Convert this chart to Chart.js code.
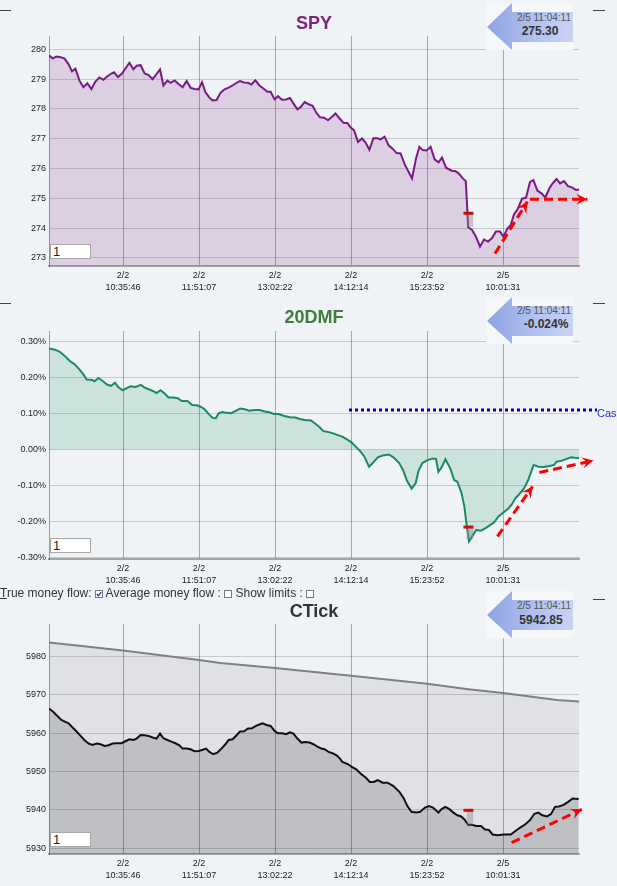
<!DOCTYPE html>
<html><head><meta charset="utf-8">
<script src="https://cdn.jsdelivr.net/npm/chart.js@4.4.1/dist/chart.umd.min.js"></script>
<style>
html,body{margin:0;padding:0;background:#F0F3F6;width:617px;height:886px;overflow:hidden;font-family:"Liberation Sans",Arial,sans-serif;}
#wrap{position:relative;width:617px;height:886px;overflow:hidden;}
canvas{position:absolute;left:0;}
.title{position:absolute;left:49px;width:530px;text-align:center;font-weight:bold;font-size:18px;line-height:20px;}
.dash{position:absolute;height:1px;background:#444;width:12px;}
.inbox{position:absolute;left:50px;width:37px;height:13px;background:#fff;border:1px solid #A8A8A8;font-size:13px;line-height:13px;color:#222;padding-left:2px;}
.callout{position:absolute;left:484px;}
.cbrow{position:absolute;left:0;top:586px;font-size:12px;line-height:14px;color:#333;white-space:nowrap;}
.cbrow svg{vertical-align:-0.5px;}
.cash{position:absolute;left:597px;top:407px;font-size:11px;line-height:13px;color:#2233DD;white-space:nowrap;}
</style>
</head>
<body>
<div id="wrap">
  <canvas id="c1" width="617" height="300" style="top:0px;width:617px;height:300px"></canvas>
  <canvas id="c2" width="617" height="290" style="top:300px;width:617px;height:290px"></canvas>
  <canvas id="c3" width="617" height="286" style="top:600px;width:617px;height:286px"></canvas>

  <div class="title" style="top:13px;color:#7B2580">SPY</div>
  <div class="title" style="top:307px;color:#3E7D3E">20DMF</div>
  <div class="title" style="top:601px;color:#333">CTick</div>

  <div class="dash" style="left:0;top:10px;width:11px"></div>
  <div class="dash" style="left:593px;top:10px"></div>
  <div class="dash" style="left:0;top:303px;width:11px"></div>
  <div class="dash" style="left:593px;top:303px"></div>
  <div class="dash" style="left:593px;top:599px"></div>

  <svg class="callout" style="top:1px" width="92" height="52">
    <defs><linearGradient id="g1" x1="0" y1="0" x2="1" y2="0"><stop offset="0" stop-color="#8EA3E1"/><stop offset="0.6" stop-color="#B3C2F0"/><stop offset="1" stop-color="#C9D3F4"/></linearGradient></defs>
    <rect x="2" y="2" width="87" height="47" fill="#F5F7F9"/>
    <polygon points="3,26 28,2 28,11 89,11 89,41 28,41 28,49" fill="url(#g1)"/>
    <text x="87" y="20" text-anchor="end" font-size="10" fill="#555" font-family="Liberation Sans, Arial">2/5 11:04:11</text>
    <text x="56" y="34" text-anchor="middle" font-size="12" font-weight="bold" fill="#333" font-family="Liberation Sans, Arial">275.30</text>
  </svg>
  <svg class="callout" style="top:295px" width="92" height="52">
    <defs><linearGradient id="g2" x1="0" y1="0" x2="1" y2="0"><stop offset="0" stop-color="#8EA3E1"/><stop offset="0.6" stop-color="#B3C2F0"/><stop offset="1" stop-color="#C9D3F4"/></linearGradient></defs>
    <rect x="2" y="2" width="87" height="47" fill="#F5F7F9"/>
    <polygon points="3,26 28,2 28,11 89,11 89,41 28,41 28,49" fill="url(#g2)"/>
    <text x="87" y="19" text-anchor="end" font-size="10" fill="#555" font-family="Liberation Sans, Arial">2/5 11:04:11</text>
    <text x="62" y="33" text-anchor="middle" font-size="12" font-weight="bold" fill="#333" font-family="Liberation Sans, Arial">-0.024%</text>
  </svg>
  <svg class="callout" style="top:589px" width="92" height="52">
    <defs><linearGradient id="g3" x1="0" y1="0" x2="1" y2="0"><stop offset="0" stop-color="#8EA3E1"/><stop offset="0.6" stop-color="#B3C2F0"/><stop offset="1" stop-color="#C9D3F4"/></linearGradient></defs>
    <rect x="2" y="2" width="87" height="47" fill="#F5F7F9"/>
    <polygon points="3,26 28,2 28,11 89,11 89,41 28,41 28,49" fill="url(#g3)"/>
    <text x="87" y="20" text-anchor="end" font-size="10" fill="#555" font-family="Liberation Sans, Arial">2/5 11:04:11</text>
    <text x="57" y="35" text-anchor="middle" font-size="12" font-weight="bold" fill="#333" font-family="Liberation Sans, Arial">5942.85</text>
  </svg>

  <div class="inbox" style="top:244px">1</div>
  <div class="inbox" style="top:538px">1</div>
  <div class="inbox" style="top:832px">1</div>

  <div class="cash">Cash</div>

  <div class="cbrow"><u>T</u>rue money flow: <svg width="8" height="8"><rect x="0.5" y="0.5" width="7" height="7" fill="#fff" stroke="#7A7A7A"/><path d="M1.8 4 L3.3 5.7 L6.3 2.1" stroke="#2A3C9A" stroke-width="1.3" fill="none"/></svg> Average money flow : <svg width="8" height="8"><rect x="0.5" y="0.5" width="7" height="7" fill="#fff" stroke="#7A7A7A"/></svg> Show limits : <svg width="8" height="8"><rect x="0.5" y="0.5" width="7" height="7" fill="#fff" stroke="#7A7A7A"/></svg></div>
</div>

<script>
// ---------- shared x axis (bar index) ----------
const xTickIdx = [18.5, 37.5, 56.5, 75.5, 94.5, 113.5];
const xTickLabels = [["2/2","10:35:46"],["2/2","11:51:07"],["2/2","13:02:22"],["2/2","14:12:14"],["2/2","15:23:52"],["2/5","10:01:31"]];

// ---------- SPY ----------
const spyX = [0,0.9,1.9,2.9,3.9,4.9,5.75,6.6,7.6,8.6,
9.6,10.6,11.6,12.6,13.6,14.6,15.6,16.25,17.25,18.25,
19.1,20.1,21.1,21.9,22.9,23.9,24.9,25.9,26.75,27.75,
28.6,29.6,30.4,31.4,32.4,33.4,34.4,35.4,36.4,37.4,
38.25,39.1,40.1,40.9,41.9,42.9,43.9,44.9,45.9,46.9,
47.75,48.75,49.75,50.6,51.6,52.6,53.6,54.6,55.4,56.4,
57.25,58.25,59.25,60.25,61.1,62.1,62.9,63.9,64.9,65.9,
66.8,67.75,68.75,69.75,70.75,71.6,72.6,73.6,74.6,75.4,
76.25,77.25,78.25,79.1,80.1,81.1,82.1,82.9,83.9,84.9,
85.9,86.9,87.9,88.9,89.9,90.75,91.75,92.6,93.4,94.4,
95.4,96.4,97.4,98.25,99.25,100.7,101.5,102.4,103.4,104.2,
104.8,105.75,106.75,107.75,108.75,109.75,110.75,111.75,112.75,113.6,
114.6,115.4,116.25,117.25,118.25,119.25,120.25,121.1,122.1,123.1,
124.1,125.1,125.9,126.9,127.75,128.75,129.75,130.75,131.75,132.5];
const spyY = [279.80,279.70,279.76,279.74,279.69,279.50,279.26,279.35,278.96,278.73,
278.86,278.67,278.92,279.06,278.98,279.10,279.19,279.23,279.07,279.19,
279.36,279.55,279.33,279.45,279.47,279.19,279.14,279.00,279.15,279.33,
278.79,278.95,278.88,278.96,278.84,278.73,278.94,278.71,278.67,278.66,
278.90,278.57,278.38,278.29,278.30,278.55,278.66,278.72,278.79,278.88,
278.94,278.89,278.88,278.82,278.96,278.79,278.69,278.58,278.58,278.32,
278.43,278.31,278.32,278.37,278.19,277.99,278.06,278.23,278.16,278.11,
277.88,277.72,277.71,277.62,277.74,277.85,277.69,277.54,277.53,277.38,
277.29,276.89,277.01,276.88,276.63,277.02,277.02,276.98,277.07,276.78,
276.67,276.52,276.51,276.15,275.89,275.67,276.34,276.73,276.62,276.61,
276.73,276.31,276.21,276.37,276.03,275.93,275.92,275.84,275.68,275.58,
274.03,273.94,273.71,273.38,273.62,273.55,273.67,273.89,273.89,273.71,
273.99,274.10,274.46,274.66,274.99,275.02,275.55,275.61,275.26,275.17,
275.03,275.34,275.50,275.65,275.50,275.58,275.41,275.37,275.28,275.30];
const spyTicks = [273,274,275,276,277,278,279,280];
const spyRange = [272.73, 280.45];

// ---------- 20DMF ----------
const dmfX = [0,1.5,2.7,4.0,5.25,6.45,7.6,8.6,9.4,10.6,
11.4,12.35,13.5,14.5,15.5,16.5,17.3,18.45,19.4,20.4,
21.6,23.0,23.95,25.1,26.3,26.9,27.9,28.9,29.85,31.05,
32.2,33.2,34.6,35.8,36.95,37.9,38.9,39.9,40.9,41.7,
42.45,43.4,44.4,45.6,46.8,47.8,48.95,50.1,51.3,52.7,
53.9,55.05,56.2,57.4,58.6,60.2,61.55,62.7,63.9,65.5,
66.45,67.65,68.6,69.8,71.0,72.2,73.35,74.5,75.6,76.7,
77.9,78.85,80.0,81.0,82.2,83.4,84.95,86.1,87.5,88.5,
89.5,90.65,91.65,92.4,93.4,94.8,96.0,96.75,97.35,98.15,
99.1,100.3,101.3,102.1,103.1,103.85,104.45,105.0,105.8,106.8,
108.0,109.15,110.35,111.3,112.3,113.5,114.7,115.65,116.6,117.6,
118.8,119.8,121.15,122.35,123.7,125.1,126.3,126.9,128.25,129.4,
130.6,131.4,132.5];
const dmfY = [0.281,0.278,0.272,0.260,0.246,0.237,0.223,0.209,0.195,0.194,
0.190,0.199,0.190,0.181,0.177,0.186,0.174,0.165,0.171,0.176,
0.174,0.180,0.172,0.167,0.161,0.157,0.165,0.156,0.145,0.145,
0.143,0.135,0.135,0.124,0.123,0.119,0.112,0.099,0.088,0.087,
0.101,0.104,0.102,0.101,0.108,0.114,0.112,0.108,0.110,0.110,
0.106,0.104,0.099,0.099,0.094,0.090,0.089,0.085,0.082,0.081,
0.073,0.062,0.051,0.049,0.045,0.040,0.036,0.028,0.020,0.008,
-0.006,-0.020,-0.048,-0.037,-0.022,-0.017,-0.014,-0.022,-0.037,-0.057,
-0.087,-0.109,-0.094,-0.059,-0.037,-0.029,-0.025,-0.026,-0.062,-0.050,
-0.027,-0.052,-0.085,-0.090,-0.120,-0.159,-0.214,-0.256,-0.242,-0.224,
-0.226,-0.219,-0.210,-0.203,-0.187,-0.176,-0.166,-0.154,-0.136,-0.124,
-0.108,-0.085,-0.043,-0.048,-0.049,-0.046,-0.043,-0.034,-0.031,-0.026,
-0.022,-0.023,-0.024];
const dmfTicks = [-0.3,-0.2,-0.1,0,0.1,0.2,0.3];
const dmfRange = [-0.305, 0.33];
const cashX = [75, 137];
const cashLevel = 0.11;

// ---------- CTick ----------
const ctX = [0,1.1,2.1,3.1,4.1,4.9,5.9,6.9,7.9,8.9,
9.9,10.9,11.9,12.9,13.9,14.9,15.9,16.9,18.1,19.1,
20.1,21.1,21.9,22.9,23.9,24.9,25.9,26.9,27.75,28.6,
29.6,30.6,31.6,32.6,33.4,34.4,35.4,36.4,37.4,38.25,
39.25,40.1,41.1,42.1,43.1,44.1,44.9,45.9,46.9,47.75,
48.75,49.75,50.75,51.75,52.75,53.4,54.4,55.4,56.4,57.25,
58.25,59.25,60.25,61.1,62.1,63.1,64.1,65.1,66.1,67.1,
68.1,68.9,69.9,70.9,71.9,72.75,73.35,74.8,75.6,76.8,
78.1,79.25,80.2,81.2,82.2,83.4,84.65,86.1,87.6,88.6,
89.6,90.6,91.85,92.8,94,95,96,97.35,98.15,99.1,
100.1,101.1,102.1,103.05,103.85,104.8,105.8,106.8,108,109,
109.95,110.9,112.1,113.7,115.45,116.6,117.8,119,120.2,121.35,
122.35,123.3,124.5,125.5,126.5,127.45,128.65,129.8,130.9,132.4];
const ctY = [5966.45,5965.56,5964.52,5963.47,5962.95,5962.61,5961.49,5960.44,5959.30,5958.17,
5957.31,5956.95,5957.31,5957.13,5956.68,5956.87,5957.31,5957.39,5957.39,5957.91,
5958.43,5958.25,5958.62,5959.56,5959.48,5959.30,5958.88,5958.62,5959.92,5958.69,
5958.25,5957.83,5957.39,5956.87,5956.00,5956.00,5955.82,5955.30,5955.38,5955.64,
5956.00,5955.12,5954.52,5954.96,5956.00,5957.13,5958.25,5958.43,5959.48,5960.44,
5960.52,5961.23,5961.31,5961.91,5962.35,5962.61,5962.17,5961.91,5960.60,5960.00,
5960.00,5959.74,5960.26,5959.92,5958.62,5957.57,5957.73,5957.57,5957.13,5956.53,
5956.00,5955.82,5955.12,5954.78,5954.26,5953.39,5952.5,5951.9,5951.3,5950.6,
5949.3,5948.4,5947.3,5947.3,5947.8,5947.1,5947.1,5946.2,5944.7,5943.2,
5941.0,5939.5,5939.3,5939.5,5940.6,5941.0,5940.6,5939.3,5940.2,5940.8,
5940.2,5939.3,5938.6,5938.3,5937.5,5936.1,5936.1,5935.8,5935.8,5934.9,
5934.8,5933.6,5933.4,5933.6,5933.6,5934.5,5935.4,5936.2,5937.3,5939.0,
5939.3,5938.6,5938.3,5938.9,5940.8,5940.9,5941.3,5942.1,5943.0,5942.85];
const avgX = [0,18.5,37.5,42.85,56.5,75.5,94.5,104.8,113.5,120.25,127,132.5];
const avgY = [5983.65,5981.6,5979.1,5978.3,5977.0,5975.0,5972.9,5971.5,5970.5,5969.6,5968.7,5968.25];
const ctTicks = [5930,5940,5950,5960,5970,5980];
const ctRange = [5928.5, 5988.5];

// ---------- gap markers & hand-drawn arrows ----------
const markBarX = [103.6, 106.1];
const markBoxX = [104.4, 106.1];
const spyMark = [274.5, 274.05];
const dmfMark = [-0.216, -0.251];
const ctMark = [5939.9, 5936.1];
const spyArrows = [[[111.5,273.15],[119.6,274.89]], [[120.25,274.97],[134.6,274.97]]];
const dmfArrows = [[[112.1,-0.242],[120.9,-0.103]], [[122.6,-0.064],[136.1,-0.031]]];
const ctArrows = [[[115.65,5931.46],[133.2,5940.16]]];

Chart.defaults.font.family = '"Liberation Sans", Arial, sans-serif';
Chart.defaults.font.size = 9;
Chart.defaults.color = '#222';

const arrowHeadPlugin = {
  id: 'arrowHeads',
  afterDatasetsDraw(chart) {
    const ctx = chart.ctx;
    chart.data.datasets.forEach((ds, i) => {
      if (!ds.arrowHead) return;
      const pts = chart.getDatasetMeta(i).data;
      const a = pts[pts.length - 2], b = pts[pts.length - 1];
      const dx = b.x - a.x, dy = b.y - a.y, len = Math.hypot(dx, dy);
      const ux = dx / len, uy = dy / len, px = -uy, py = ux;
      const L = 11, W = 5.5, N = 7;
      ctx.save();
      ctx.fillStyle = ds.borderColor;
      ctx.beginPath();
      ctx.moveTo(b.x, b.y);
      ctx.lineTo(b.x - ux * L + px * W, b.y - uy * L + py * W);
      ctx.lineTo(b.x - ux * N, b.y - uy * N);
      ctx.lineTo(b.x - ux * L - px * W, b.y - uy * L - py * W);
      ctx.closePath();
      ctx.fill();
      ctx.restore();
    });
  }
};

function series(xs, ys, extra) {
  return Object.assign({ data: xs.map((x, i) => ({ x: x, y: ys[i] })), pointRadius: 0, borderWidth: 2, tension: 0, fill: false }, extra);
}
function arrowSets(list) {
  return list.map(seg => ({
    data: seg.map(p => ({ x: p[0], y: p[1] })), borderColor: '#FF0000', borderWidth: 3,
    borderDash: [9, 5], pointRadius: 0, fill: false, clip: false, arrowHead: true
  }));
}
function markerSets(yy) {
  return [
    { data: markBarX.map(x => ({ x: x, y: yy[0] })), borderColor: '#C41010', borderWidth: 3, pointRadius: 0, fill: false },
    { data: markBoxX.map(x => ({ x: x, y: yy[0] })), borderWidth: 0, borderColor: 'rgba(0,0,0,0)', pointRadius: 0,
      fill: { value: yy[1] }, backgroundColor: 'rgba(140,140,140,0.45)' }
  ];
}

function panel(id, p) {
  return new Chart(document.getElementById(id), {
    type: 'line',
    data: { datasets: p.datasets },
    plugins: [arrowHeadPlugin],
    options: {
      responsive: false, animation: false, events: [],
      layout: { padding: { top: p.padTop, right: 38, left: 0, bottom: 0 } },
      plugins: { legend: { display: false }, tooltip: { enabled: false }, title: { display: false } },
      scales: {
        x: {
          type: 'linear', min: 0, max: 132.5,
          afterBuildTicks: s => { s.ticks = xTickIdx.map(v => ({ value: v })); },
          afterFit: s => { s.height = p.xH; },
          grid: { color: 'rgba(0,0,0,0.3)', lineWidth: 1, drawTicks: false },
          border: { display: true, color: 'rgba(0,0,0,0.32)', width: 2 },
          ticks: { autoSkip: false, maxRotation: 0, padding: 4, color: '#222', font: { size: 9, lineHeight: 1.3 },
                   callback: (v, i) => xTickLabels[i] }
        },
        y: {
          type: 'linear', min: p.range[0], max: p.range[1],
          afterBuildTicks: s => { s.ticks = p.ticks.map(v => ({ value: v })); },
          afterFit: s => { s.width = 49; },
          grid: { color: 'rgba(0,0,0,0.17)', lineWidth: 1, drawTicks: false },
          border: { display: true, color: 'rgba(0,0,0,0.35)', width: 1 },
          ticks: { padding: 3, color: '#222', font: { size: 9 }, callback: p.fmt }
        }
      }
    }
  });
}

panel('c1', {
  padTop: 36, xH: 34, range: spyRange, ticks: spyTicks, fmt: v => String(v),
  datasets: [].concat(
    arrowSets(spyArrows),
    markerSets(spyMark),
    [series(spyX, spyY, { borderColor: '#7A1A84', fill: 'start', backgroundColor: 'rgba(123,30,130,0.17)' })]
  )
});

panel('c2', {
  padTop: 31, xH: 31, range: dmfRange, ticks: dmfTicks, fmt: v => v.toFixed(2) + '%',
  datasets: [].concat(
    arrowSets(dmfArrows),
    markerSets(dmfMark),
    [{ data: cashX.map(x => ({ x: x, y: cashLevel })), borderColor: '#0000CC', borderWidth: 3, borderDash: [3, 3], pointRadius: 0, fill: false, clip: false }],
    [series(dmfX, dmfY, { borderColor: '#1A8A62', fill: 'origin', backgroundColor: 'rgba(30,140,100,0.17)' })]
  )
});

panel('c3', {
  padTop: 24, xH: 32, range: ctRange, ticks: ctTicks, fmt: v => String(v),
  datasets: [].concat(
    arrowSets(ctArrows),
    markerSets(ctMark),
    [series(ctX, ctY, { borderColor: '#111111', fill: 'start', backgroundColor: 'rgba(0,0,0,0.15)' })],
    [series(avgX, avgY, { borderColor: '#808080', fill: 'start', backgroundColor: 'rgba(0,0,0,0.07)' })]
  )
});
</script>
</body></html>
